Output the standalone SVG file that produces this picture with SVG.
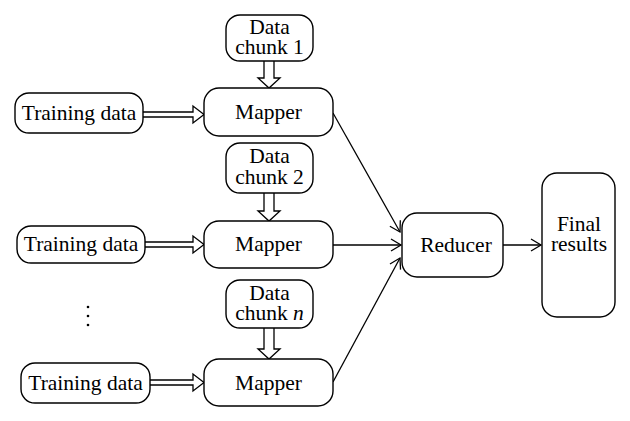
<svg xmlns="http://www.w3.org/2000/svg" width="630" height="421" viewBox="0 0 630 421">
<style>
.box{fill:#fff;stroke:#000;stroke-width:1.4}
.t{font-family:"Liberation Serif","Times New Roman",serif;font-size:21.5px;fill:#000;text-anchor:middle}
.ha{fill:#fff;stroke:#000;stroke-width:1.3;stroke-linejoin:miter}
.ln{fill:none;stroke:#000;stroke-width:1.3}
</style>
<defs>
<marker id="arr" markerWidth="14" markerHeight="14" refX="12" refY="7" orient="auto" markerUnits="userSpaceOnUse">
<polyline points="2,1 12,7 2,13" fill="none" stroke="#000" stroke-width="1.3"/>
</marker>
</defs>
<rect width="630" height="421" fill="#fff"/>
<g id="connectors">
<path class="ha" d="M143,112 H193 V106 L204,114.5 L193,123 V117 H143"/>
<path class="ha" d="M145,242 H193 V236 L204,244.5 L193,253 V247 H145"/>
<path class="ha" d="M150,380 H193 V374 L204,382.5 L193,391 V385 H150"/>
<path class="ha" d="M264,61 V78 H258 L269,88 L280,78 H274 V61"/>
<path class="ha" d="M264,193 V211 H258 L269,221 L280,211 H274 V193"/>
<path class="ha" d="M264,328 V349 H258 L269,359 L280,349 H274 V328"/>
<line class="ln" x1="333" y1="113" x2="400" y2="232" marker-end="url(#arr)"/>
<line class="ln" x1="333" y1="245" x2="401" y2="245" marker-end="url(#arr)"/>
<line class="ln" x1="333" y1="382" x2="400" y2="258" marker-end="url(#arr)"/>
<line class="ln" x1="503" y1="245" x2="541" y2="245" marker-end="url(#arr)"/>
</g>
<g id="chunk1"><rect class="box" x="226" y="15" width="87" height="46" rx="14"/><text class="t" x="269.5" y="34">Data</text><text class="t" x="269.5" y="54">chunk 1</text></g>
<g id="chunk2"><rect class="box" x="226" y="143" width="87" height="50" rx="14"/><text class="t" x="269.5" y="163">Data</text><text class="t" x="269.5" y="184">chunk 2</text></g>
<g id="chunkn"><rect class="box" x="226" y="280" width="87" height="48" rx="14"/><text class="t" x="269.5" y="300">Data</text><text class="t" x="269.5" y="320">chunk <tspan font-style="italic">n</tspan></text></g>
<g id="train1"><rect class="box" x="15" y="93" width="128" height="40" rx="14"/><text class="t" x="79" y="120">Training data</text></g>
<g id="train2"><rect class="box" x="17" y="226" width="128" height="37" rx="14"/><text class="t" x="81" y="251">Training data</text></g>
<g id="train3"><rect class="box" x="21" y="363" width="129" height="40" rx="14"/><text class="t" x="85.5" y="390">Training data</text></g>
<g id="mapper1"><rect class="box" x="204" y="88" width="129" height="48" rx="15"/><text class="t" x="268.5" y="119">Mapper</text></g>
<g id="mapper2"><rect class="box" x="204" y="221" width="129" height="47" rx="15"/><text class="t" x="268.5" y="251">Mapper</text></g>
<g id="mapper3"><rect class="box" x="204" y="359" width="129" height="47" rx="15"/><text class="t" x="268.5" y="390">Mapper</text></g>
<g id="dots"><circle cx="88" cy="307" r="1.3"/><circle cx="88" cy="316" r="1.3"/><circle cx="88" cy="325" r="1.3"/></g>
<g id="reducer"><rect class="box" x="402" y="213" width="101" height="64" rx="15"/><text class="t" x="456" y="252">Reducer</text></g>
<g id="final"><rect class="box" x="542" y="173" width="73" height="144" rx="15"/><text class="t" x="579" y="231">Final</text><text class="t" x="579" y="251">results</text></g>
</svg>
